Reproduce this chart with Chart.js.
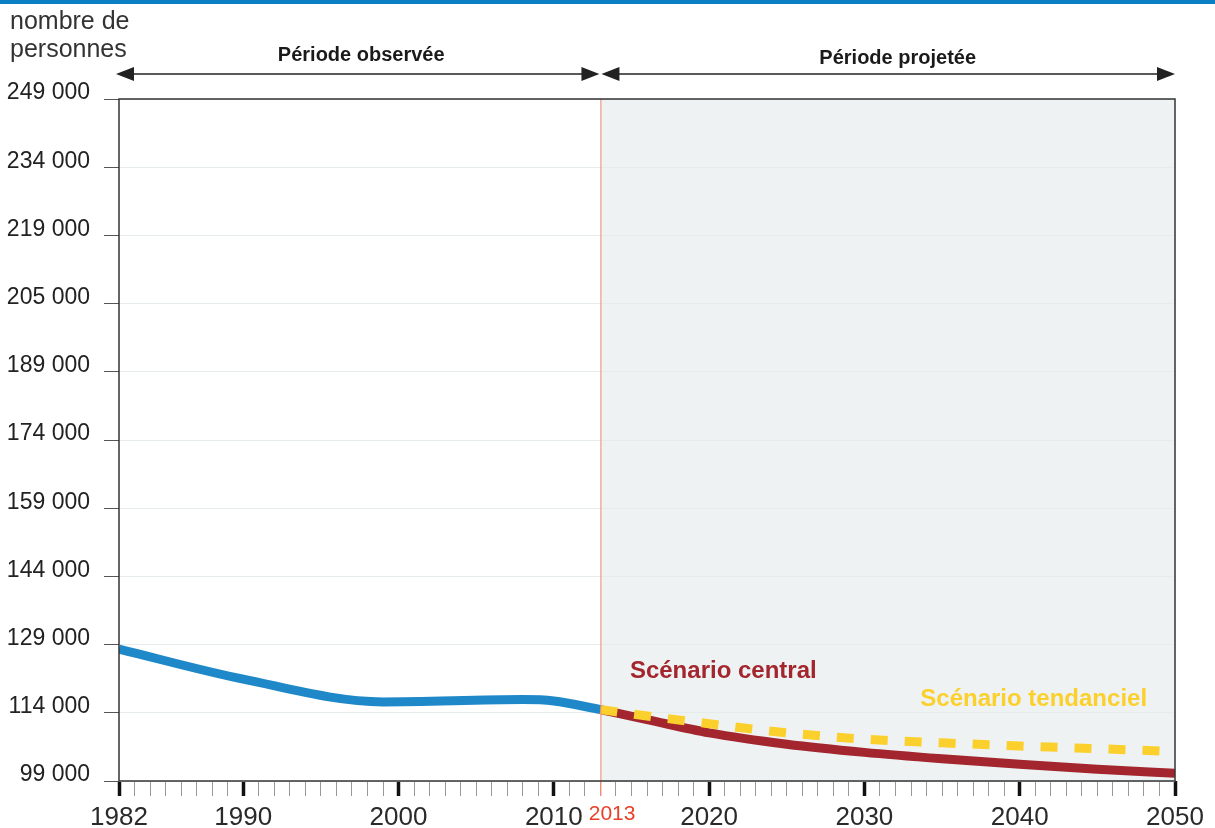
<!DOCTYPE html>
<html>
<head>
<meta charset="utf-8">
<script src="https://cdn.jsdelivr.net/npm/chart.js@4/dist/chart.umd.min.js"></script>
<style>
  html, body { margin: 0; padding: 0; background: #fff; }
  #wrap { width: 1215px; height: 828px; position: relative; }
</style>
</head>
<body>
<div id="wrap"><canvas id="chart"></canvas></div>
<script>
// données ==========================================
const obsYears = [1982, 1990, 1999, 2008, 2010, 2013];
const obsValues = [128000, 121400, 116400, 116900, 116600, 114700];

const projYears = [2013, 2016, 2020, 2025, 2030, 2035, 2040, 2045, 2050];
const centralValues = [114700, 112500, 109600, 107100, 105300, 103900, 102700, 101600, 100700];
const tendancielValues = [114700, 113300, 111600, 109600, 108200, 107400, 106700, 106100, 105500];

const yTickValues = [99000, 114000, 129000, 144000, 159000, 174000, 189000, 204000, 219000, 234000, 249000];
const yTickLabels = ["99 000", "114 000", "129 000", "144 000", "159 000", "174 000", "189 000", "205 000", "219 000", "234 000", "249 000"];
const xLabelYears = [1982, 1990, 2000, 2010, 2013, 2020, 2030, 2040, 2050];
const majorYears = [1982, 1990, 2000, 2010, 2020, 2030, 2040, 2050];
const startProj = 2013;

function toPoints(xs, ys) {
  return xs.map(function (x, i) { return { x: x, y: ys[i] }; });
}

const SANS = '"Liberation Sans", Arial, sans-serif';

//plugin : fond, cadre, annotations ================
const decor = {
  id: "decor",
  beforeDraw(chart) {
    const ctx = chart.ctx;
    const a = chart.chartArea;
    const x = chart.scales.x;
    ctx.save();
    // barre bleue en haut
    ctx.fillStyle = "#0a7fc4";
    ctx.fillRect(0, 0, chart.width, 4);
    // zone projetée
    const xp = x.getPixelForValue(startProj);
    ctx.fillStyle = "#eef2f3";
    ctx.fillRect(xp, a.top, a.right - xp, a.bottom - a.top);
    ctx.restore();
  },
  afterDatasetsDraw(chart) {
    const ctx = chart.ctx;
    const a = chart.chartArea;
    const x = chart.scales.x;
    const y = chart.scales.y;
    const xp = x.getPixelForValue(startProj);
    ctx.save();
    // ligne 2013
    ctx.strokeStyle = "#f08a78";
    ctx.lineWidth = 1;
    ctx.beginPath();
    ctx.moveTo(xp + 0.5, a.top);
    ctx.lineTo(xp + 0.5, a.bottom + 15);
    ctx.stroke();
    // cadre
    ctx.strokeStyle = "#333";
    ctx.lineWidth = 1.5;
    ctx.strokeRect(a.left, a.top, a.right - a.left, a.bottom - a.top);

    // libellés scénarios
    ctx.font = "bold 24px " + SANS;
    ctx.textBaseline = "middle";
    ctx.textAlign = "left";
    ctx.fillStyle = "#a3262e";
    ctx.fillText("Scénario central", x.getPixelForValue(2014.9), y.getPixelForValue(123150));
    ctx.fillStyle = "#fcd02c";
    ctx.fillText("Scénario tendanciel", x.getPixelForValue(2033.6), y.getPixelForValue(116950));

    // titre axe y
    ctx.fillStyle = "#333";
    ctx.font = "25px " + SANS;
    ctx.textBaseline = "alphabetic";
    ctx.fillText("nombre de", 10, 29);
    ctx.fillText("personnes", 10, 57);

    // flèches périodes
    const arrowY = 74;
    const x0 = x.getPixelForValue(1982) - 3;
    const x1 = x.getPixelForValue(2050);
    function arrow(l, r) {
      ctx.strokeStyle = "#222";
      ctx.fillStyle = "#222";
      ctx.lineWidth = 1.5;
      ctx.beginPath();
      ctx.moveTo(l + 10, arrowY);
      ctx.lineTo(r - 10, arrowY);
      ctx.stroke();
      ctx.beginPath();
      ctx.moveTo(l, arrowY);
      ctx.lineTo(l + 18, arrowY - 7);
      ctx.lineTo(l + 18, arrowY + 7);
      ctx.closePath();
      ctx.fill();
      ctx.beginPath();
      ctx.moveTo(r, arrowY);
      ctx.lineTo(r - 18, arrowY - 7);
      ctx.lineTo(r - 18, arrowY + 7);
      ctx.closePath();
      ctx.fill();
    }
    arrow(x0, xp - 1);
    arrow(xp + 1, x1);
    ctx.font = "bold 20px " + SANS;
    ctx.textAlign = "center";
    ctx.fillStyle = "#1a1a1a";
    ctx.fillText("Période observée", (x0 + xp) / 2 + 3, 61);
    ctx.fillText("Période projetée", (xp + x1) / 2 + 10, 64);
    ctx.restore();
  }
};

//chart ============================================
const chartArea = document.getElementById("chart").getContext("2d");
const mychart = new Chart(chartArea, {
  type: "line",
  data: {
    datasets: [
      {
        label: "Scénario tendanciel",
        data: toPoints(projYears, tendancielValues),
        borderColor: "#fcd02c",
        borderWidth: 9,
        borderDash: [17, 17],
        borderCapStyle: "butt",
        cubicInterpolationMode: "monotone",
        pointRadius: 0,
        order: 1,
      },
      {
        label: "Scénario central",
        data: toPoints(projYears, centralValues),
        borderColor: "#a3262e",
        borderWidth: 9,
        borderCapStyle: "butt",
        cubicInterpolationMode: "monotone",
        pointRadius: 0,
        order: 2,
      },
      {
        label: "Période observée",
        data: toPoints(obsYears, obsValues),
        borderColor: "#1e88c8",
        borderWidth: 9,
        borderCapStyle: "butt",
        cubicInterpolationMode: "monotone",
        pointRadius: 0,
        order: 3,
      },
    ],
  },
  options: {
    responsive: true,
    maintainAspectRatio: false,
    animation: false,
    layout: { padding: { top: 99, right: 40, left: 0, bottom: 0 } },
    plugins: {
      legend: { display: false },
      tooltip: { enabled: false },
    },
    scales: {
      x: {
        type: "linear",
        min: 1982,
        max: 2050,
        afterBuildTicks(scale) {
          const t = [];
          for (let v = 1982; v <= 2050; v++) t.push({ value: v });
          scale.ticks = t;
        },
        afterFit(scale) { scale.height = 47; },
        border: { display: false },
        grid: {
          drawOnChartArea: false,
          tickLength: 15,
          tickColor: function (c) {
            if (c.tick && majorYears.indexOf(c.tick.value) >= 0) return "#111";
            if (c.tick && c.tick.value === startProj) return "#f08a78";
            return "#999";
          },
          tickWidth: function (c) {
            return c.tick && majorYears.indexOf(c.tick.value) >= 0 ? 3.5 : 1;
          },
        },
        ticks: {
          autoSkip: false,
          maxRotation: 0,
          padding: 6,
          callback: function (v) {
            if (v === startProj) return "    " + v; // décalé à droite comme l'original
            return xLabelYears.indexOf(v) >= 0 ? String(v) : "";
          },
          color: function (c) {
            return c.tick && c.tick.value === startProj ? "#e8412a" : "#2a2a2a";
          },
          font: function (c) {
            if (c.tick && c.tick.value === startProj) return { family: SANS, size: 21 };
            return { family: SANS, size: 26 };
          },
        },
      },
      y: {
        min: 99000,
        max: 249000,
        afterBuildTicks(scale) {
          scale.ticks = yTickValues.map(function (v) { return { value: v }; });
        },
        afterFit(scale) { scale.width = 119; },
        border: { display: false },
        grid: {
          color: "#e6ecec",
          lineWidth: 1,
          tickLength: 15,
          tickColor: "#555",
        },
        ticks: {
          padding: 14,
          labelOffset: -6,
          color: "#222",
          font: { family: SANS, size: 23 },
          callback: function (v, i) { return yTickLabels[i]; },
        },
      },
    },
  },
  plugins: [decor],
});
</script>
</body>
</html>
